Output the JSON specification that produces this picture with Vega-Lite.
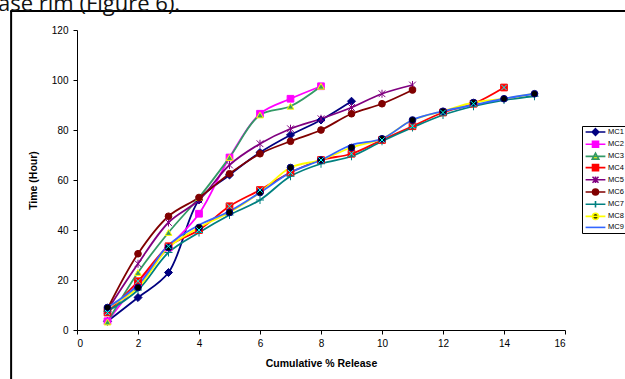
{
  "$schema": "https://vega.github.io/schema/vega-lite/v6.json",
  "autosize": "none",
  "width": 488,
  "height": 300,
  "padding": {"left": 77, "top": 30, "right": 60, "bottom": 49},
  "background": "white",
  "title": {"text": "ase rim (Figure 6).", "anchor": "start", "frame": "group", "font": "Open Sans", "fontSize": 22, "fontWeight": "normal", "color": "#111111", "baseline": "alphabetic", "offset": 0, "dx": -79, "dy": 23},
  "data": {"values": [
    {"s": "MC1", "x": 1, "y": 3.5}, {"s": "MC1", "x": 2, "y": 13}, {"s": "MC1", "x": 3, "y": 23}, {"s": "MC1", "x": 4, "y": 52}, {"s": "MC1", "x": 5, "y": 62}, {"s": "MC1", "x": 6, "y": 71}, {"s": "MC1", "x": 7, "y": 78}, {"s": "MC1", "x": 8, "y": 84}, {"s": "MC1", "x": 9, "y": 91.5},
    {"s": "MC2", "x": 1, "y": 3.5}, {"s": "MC2", "x": 2, "y": 19}, {"s": "MC2", "x": 3, "y": 33}, {"s": "MC2", "x": 4, "y": 46.5}, {"s": "MC2", "x": 5, "y": 69}, {"s": "MC2", "x": 6, "y": 86.5}, {"s": "MC2", "x": 7, "y": 92.5}, {"s": "MC2", "x": 8, "y": 97.5},
    {"s": "MC3", "x": 1, "y": 3.2}, {"s": "MC3", "x": 2, "y": 23}, {"s": "MC3", "x": 3, "y": 39}, {"s": "MC3", "x": 4, "y": 53}, {"s": "MC3", "x": 5, "y": 69}, {"s": "MC3", "x": 6, "y": 86}, {"s": "MC3", "x": 7, "y": 89.5}, {"s": "MC3", "x": 8, "y": 97.5},
    {"s": "MC4", "x": 1, "y": 7}, {"s": "MC4", "x": 2, "y": 19.5}, {"s": "MC4", "x": 3, "y": 33.5}, {"s": "MC4", "x": 4, "y": 40}, {"s": "MC4", "x": 5, "y": 49.5}, {"s": "MC4", "x": 6, "y": 56}, {"s": "MC4", "x": 7, "y": 63}, {"s": "MC4", "x": 8, "y": 68}, {"s": "MC4", "x": 9, "y": 70.5}, {"s": "MC4", "x": 10, "y": 76}, {"s": "MC4", "x": 11, "y": 81.5}, {"s": "MC4", "x": 12, "y": 87}, {"s": "MC4", "x": 13, "y": 90.5}, {"s": "MC4", "x": 14, "y": 97},
    {"s": "MC5", "x": 1, "y": 8}, {"s": "MC5", "x": 2, "y": 26.5}, {"s": "MC5", "x": 3, "y": 43}, {"s": "MC5", "x": 4, "y": 52}, {"s": "MC5", "x": 5, "y": 66}, {"s": "MC5", "x": 6, "y": 74.5}, {"s": "MC5", "x": 7, "y": 80.5}, {"s": "MC5", "x": 8, "y": 84.5}, {"s": "MC5", "x": 9, "y": 89}, {"s": "MC5", "x": 10, "y": 94.5}, {"s": "MC5", "x": 11, "y": 98},
    {"s": "MC6", "x": 1, "y": 8.5}, {"s": "MC6", "x": 2, "y": 30.5}, {"s": "MC6", "x": 3, "y": 45.5}, {"s": "MC6", "x": 4, "y": 53}, {"s": "MC6", "x": 5, "y": 62.5}, {"s": "MC6", "x": 6, "y": 70.5}, {"s": "MC6", "x": 7, "y": 75.5}, {"s": "MC6", "x": 8, "y": 80}, {"s": "MC6", "x": 9, "y": 86.5}, {"s": "MC6", "x": 10, "y": 90.5}, {"s": "MC6", "x": 11, "y": 96},
    {"s": "MC7", "x": 1, "y": 7.5}, {"s": "MC7", "x": 2, "y": 16}, {"s": "MC7", "x": 3, "y": 31}, {"s": "MC7", "x": 4, "y": 39}, {"s": "MC7", "x": 5, "y": 46}, {"s": "MC7", "x": 6, "y": 52}, {"s": "MC7", "x": 7, "y": 61.5}, {"s": "MC7", "x": 8, "y": 66.5}, {"s": "MC7", "x": 9, "y": 69.5}, {"s": "MC7", "x": 10, "y": 75.5}, {"s": "MC7", "x": 11, "y": 81}, {"s": "MC7", "x": 12, "y": 86}, {"s": "MC7", "x": 13, "y": 89.5}, {"s": "MC7", "x": 14, "y": 92}, {"s": "MC7", "x": 15, "y": 93.5},
    {"s": "MC8", "x": 1, "y": 9}, {"s": "MC8", "x": 2, "y": 17}, {"s": "MC8", "x": 3, "y": 33}, {"s": "MC8", "x": 4, "y": 41}, {"s": "MC8", "x": 5, "y": 47}, {"s": "MC8", "x": 6, "y": 55}, {"s": "MC8", "x": 7, "y": 65}, {"s": "MC8", "x": 8, "y": 68}, {"s": "MC8", "x": 9, "y": 73}, {"s": "MC8", "x": 10, "y": 76.5}, {"s": "MC8", "x": 11, "y": 84}, {"s": "MC8", "x": 12, "y": 87.5}, {"s": "MC8", "x": 13, "y": 91}, {"s": "MC8", "x": 14, "y": 92.5}, {"s": "MC8", "x": 15, "y": 94.5},
    {"s": "MC9", "x": 1, "y": 9}, {"s": "MC9", "x": 2, "y": 18}, {"s": "MC9", "x": 3, "y": 34}, {"s": "MC9", "x": 4, "y": 42}, {"s": "MC9", "x": 5, "y": 47.5}, {"s": "MC9", "x": 6, "y": 55}, {"s": "MC9", "x": 7, "y": 63}, {"s": "MC9", "x": 8, "y": 68}, {"s": "MC9", "x": 9, "y": 74}, {"s": "MC9", "x": 10, "y": 76.5}, {"s": "MC9", "x": 11, "y": 84}, {"s": "MC9", "x": 12, "y": 87.5}, {"s": "MC9", "x": 13, "y": 90}, {"s": "MC9", "x": 14, "y": 92.5}, {"s": "MC9", "x": 15, "y": 94.5}
  ]},
  "encoding": {
    "x": {"field": "x", "type": "quantitative", "scale": {"domain": [0, 16], "nice": false, "zero": false},
      "axis": {"title": "Cumulative % Release", "values": [0, 2, 4, 6, 8, 10, 12, 14, 16], "titlePadding": 10, "labelPadding": 4}},
    "y": {"field": "y", "type": "quantitative", "scale": {"domain": [0, 120], "nice": false},
      "axis": {"title": "Time (Hour)", "values": [0, 20, 40, 60, 80, 100, 120], "titlePadding": 13, "labelPadding": 5}}
  },
  "layer": [
    {
      "data": {"values": [{"side": "left", "x": -2.16, "x2": -2.16, "y": 127.6, "y2": -40}, {"side": "top", "x": -2.19, "x2": 22, "y": 127.6, "y2": 127.6}]},
      "mark": {"type": "rule", "color": "#000000", "strokeWidth": 2, "clip": false, "opacity": 1},
      "encoding": {
        "x": {"field": "x", "type": "quantitative"},
        "x2": {"field": "x2"},
        "y": {"field": "y", "type": "quantitative"},
        "y2": {"field": "y2"}
      }
    },
    {
      "mark": {"type": "line", "interpolate": "catmull-rom", "strokeWidth": 1.8},
      "encoding": {
        "color": {"field": "s", "type": "nominal",
          "scale": {"domain": ["MC1", "MC2", "MC3", "MC4", "MC5", "MC6", "MC7", "MC8", "MC9"],
            "range": ["#000080", "#FF00FF", "#339966", "#FF0000", "#800080", "#800000", "#008080", "#FFFF00", "#3366FF"]},
          "legend": null}
      }
    },
    {
      "transform": [{"filter": "datum.s != 'MC9'"}],
      "mark": {"type": "point", "filled": true, "size": 45, "strokeWidth": 1, "opacity": 1},
      "encoding": {
        "shape": {"field": "s", "type": "nominal", "legend": null,
          "scale": {"domain": ["MC1", "MC2", "MC3", "MC4", "MC5", "MC6", "MC7", "MC8"],
            "range": ["M0,-1.2L1.2,0L0,1.2L-1.2,0Z", "square", "triangle-up", "square", "M-1,-1L1,1M-1,1L1,-1M0,-1.2L0,1.2", "circle", "M-1.2,0L1.2,0M0,-1.2L0,1.2", "circle"]}},
        "fill": {"field": "s", "type": "nominal", "legend": null,
          "scale": {"domain": ["MC1", "MC2", "MC3", "MC4", "MC5", "MC6", "MC7", "MC8"],
            "range": ["#000080", "#FF00FF", "#339966", "#FF0000", "#800080", "#800000", "#008080", "#000000"]}},
        "stroke": {"field": "s", "type": "nominal", "legend": null,
          "scale": {"domain": ["MC1", "MC2", "MC3", "MC4", "MC5", "MC6", "MC7", "MC8"],
            "range": ["#000080", "#FF00FF", "#FFFF00", "#FF0000", "#800080", "#800000", "#008080", "#000080"]}}
      }
    },
    {
      "transform": [{"filter": "datum.s == 'MC4'"}],
      "mark": {"type": "point", "filled": false, "size": 45, "strokeWidth": 1, "stroke": "#00FFFF", "opacity": 1, "shape": "M-0.8,-0.8L0.8,0.8M-0.8,0.8L0.8,-0.8"},
      "encoding": {}
    },
    {
      "transform": [{"filter": "datum.s == 'none'"}],
      "mark": {"type": "point", "filled": true, "strokeWidth": 1.6, "opacity": 1},
      "encoding": {
        "shape": {"field": "s", "type": "nominal", "legend": {"title": null},
          "scale": {"domain": ["MC1", "MC2", "MC3", "MC4", "MC5", "MC6", "MC7", "MC8", "MC9"],
            "range": [
              "M-3.3,0L3.3,0M0,-1.1L1.1,0L0,1.1L-1.1,0Z",
              "M-3.3,0L3.3,0M-1,-1L1,-1L1,1L-1,1Z",
              "M-3.3,0L3.3,0M0,-1.1L1.1,0.9L-1.1,0.9Z",
              "M-3.3,0L3.3,0M-1,-1L1,-1L1,1L-1,1ZM-1,-1L1,1M-1,1L1,-1",
              "M-3.3,0L3.3,0M-1,-1L1,1M-1,1L1,-1M0,-1.1L0,1.1",
              "M-3.3,0L3.3,0M1,0A1,1,0,1,1,-1,0A1,1,0,1,1,1,0Z",
              "M-3.3,0L3.3,0M0,-1.1L0,1.1",
              "M-3.3,0L3.3,0M1,0A1,1,0,1,1,-1,0A1,1,0,1,1,1,0Z",
              "M-3.3,0L3.3,0"
            ]}},
        "fill": {"field": "s", "type": "nominal", "legend": {"title": null},
          "scale": {"domain": ["MC1", "MC2", "MC3", "MC4", "MC5", "MC6", "MC7", "MC8", "MC9"],
            "range": ["#000080", "#FF00FF", "#FFFF00", "#FF0000", "#800080", "#800000", "#008080", "#000000", "#3366FF"]}},
        "stroke": {"field": "s", "type": "nominal", "legend": {"title": null},
          "scale": {"domain": ["MC1", "MC2", "MC3", "MC4", "MC5", "MC6", "MC7", "MC8", "MC9"],
            "range": ["#000080", "#FF00FF", "#339966", "#FF0000", "#800080", "#800000", "#008080", "#FFFF00", "#3366FF"]}}
      }
    }
  ],
  "resolve": {
    "scale": {"shape": "independent", "fill": "independent", "stroke": "independent"},
    "legend": {"shape": "independent", "fill": "independent", "stroke": "independent"}
  },
  "config": {
    "view": {"stroke": null},
    "axis": {"grid": false, "domainColor": "black", "tickColor": "black", "labelColor": "black", "titleColor": "black",
      "labelFont": "Liberation Sans", "titleFont": "Liberation Sans", "labelFontSize": 10, "titleFontSize": 10.5,
      "titleFontWeight": "bold", "tickSize": 4, "domainWidth": 1, "tickWidth": 1},
    "legend": {"orient": "none", "legendX": 505, "legendY": 96, "strokeColor": "black", "fillColor": "white", "padding": 2,
      "symbolSize": 36, "symbolStrokeWidth": 1.6, "symbolOffset": 7.5, "labelOffset": 8.5, "labelFontSize": 7.5,
      "labelFont": "Liberation Sans", "labelColor": "black", "rowPadding": -1.8, "cornerRadius": 0, "symbolType": "circle"}
  }
}
